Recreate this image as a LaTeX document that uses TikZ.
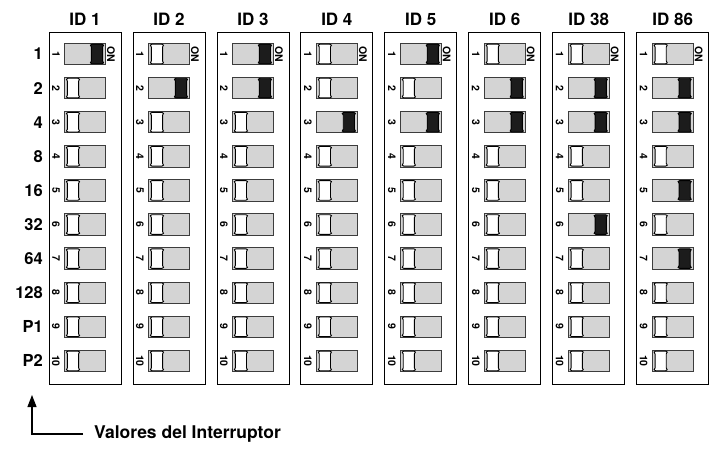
\documentclass[tikz,border=0pt]{standalone}
\usepackage{fontspec}
\setmainfont{TeX Gyre Heros}
\usepackage{xcolor}
\definecolor{Black}{RGB}{0,0,0}
\definecolor{White}{RGB}{255,255,255}
\definecolor{Gray}{RGB}{212,212,212}
\definecolor{Dark}{RGB}{28,28,28}
\definecolor{Edge}{RGB}{60,60,60}
\usetikzlibrary{arrows.meta}

% knob of a switch: x, y, fill
\newcommand{\knob}[3]{%
	\filldraw[fill=#3, draw=Black, line width=0.9pt, shift={(#1,#2)}] (-5,-9.8) -- (5,-9.8) .. controls (7,-9.8) and (7,-8.2) .. (5.6,-7.0) -- (5.6,7.0) .. controls (7,8.2) and (7,9.8) .. (5,9.8) -- (-5,9.8) .. controls (-7,9.8) and (-7,8.2) .. (-5.6,7.0) -- (-5.6,-7.0) .. controls (-7,-8.2) and (-7,-9.8) .. (-5,-9.8) -- cycle;}

\tikzset{
	panel/.style={draw=Black, fill=White, line width=0.8pt},
	slot/.style={draw=Edge, fill=Gray, line width=0.9pt},
	idlabel/.style={font=\fontsize{17}{19}\selectfont\bfseries},
	rowlabel/.style={font=\fontsize{16.5}{19}\selectfont\bfseries, anchor=east, inner sep=0pt},
	poslabel/.style={font=\fontsize{10.5}{12}\selectfont\bfseries, rotate=-90, inner sep=0pt},
}

\begin{document}
\begin{tikzpicture}[x=1pt, y=-1pt]
	\useasboundingbox (0,0) rectangle (714,449);
	
	% Values
	\foreach \lab [count=\r] in {1,2,4,8,16,32,64,128,P1,P2}
		\node[rowlabel] (val\r) at (43, {54+34.1*(\r-1)}) {\lab};
	
	% Panels
	\foreach \id [count=\k from 0] in {1,2,3,4,5,6,38,86} {
		\pgfmathsetmacro{\xl}{49+83.95*\k}
		\draw[panel] (\xl,32) rectangle ++(72,352);
		\node[idlabel] (id\k) at (\xl+36,19) {ID \id};
		\node[poslabel] (on\k) at (\xl+62,54) {ON};
		
		% Switches
		\foreach \r in {1,...,10} {
			\pgfmathsetmacro{\yc}{54+34.1*(\r-1)}
			\pgfmathtruncatemacro{\bit}{mod(floor(\id/2^(\r-1)),2)}
			\node[poslabel] (n\k-\r) at (\xl+7,\yc) {\r};
			\draw[slot] (\xl+15.5,\yc-10.7) rectangle ++(41,21.4);
			\ifnum\bit=1 \knob{\xl+48}{\yc}{Dark} \else \knob{\xl+24}{\yc}{White} \fi
		}
	}
	
	% Arrow
	\coordinate (tip) at (32,395);
	\node[anchor=west, inner xsep=11pt, font=\fontsize{17.5}{20}\selectfont\bfseries] (switch) at (83,434) {Valores del Interruptor};
	\draw[-{Triangle[length=12pt, width=9pt]}, draw=Black, line width=1.2pt] (switch.west) -| (tip);
	
\end{tikzpicture}
\end{document}
